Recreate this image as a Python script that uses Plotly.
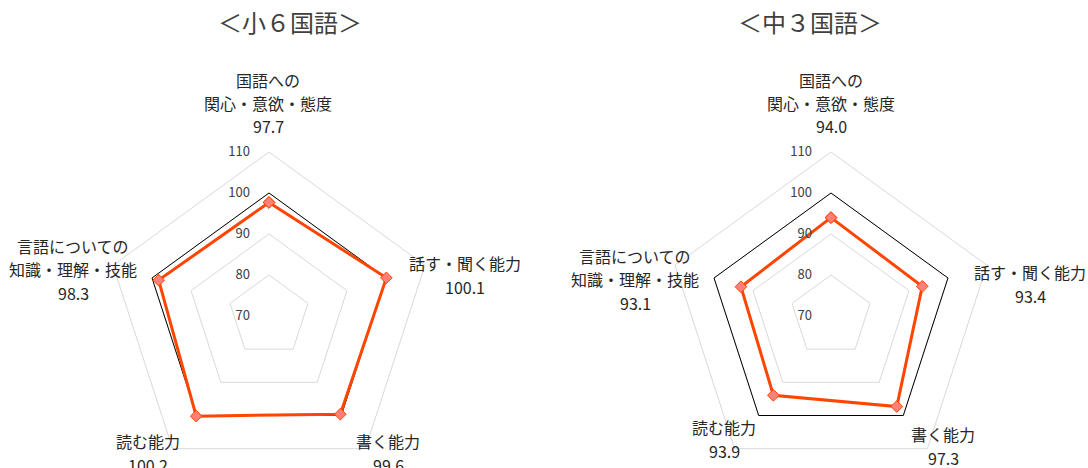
import plotly.graph_objects as go

# categories clockwise from the top
categories = ["国語への<br>関心・意欲・態度", "話す・聞く能力", "書く能力", "読む能力", "言語についての<br>知識・理解・技能"]
titles = ["＜小６国語＞", "＜中３国語＞"]
scores_e6 = [97.7, 100.1, 99.6, 100.2, 98.3]
scores_j3 = [94.0, 93.4, 97.3, 93.9, 93.1]
baseline = [100, 100, 100, 100, 100]
radial_ticks = [70, 80, 90, 100, 110]

W, H = 1088, 492
R = 164  # polar radius in px
LINE = 23.5  # label line spacing in px

def dom(cx, cy):
    return dict(x=[(cx - R) / W, (cx + R) / W], y=[(H - cy - R) / H, (H - cy + R) / H])

def px(x, y):
    return x / W, 1 - y / H

fig = go.Figure()

panels = [
    ("polar", scores_e6, (269, 316)),
    ("polar2", scores_j3, (831, 316)),
]

for name, vals, _ in panels:
    theta = categories + categories[:1]
    fig.add_trace(go.Scatterpolar(r=baseline + baseline[:1], theta=theta, subplot=name,
                                  mode="lines", line=dict(color="black", width=1),
                                  showlegend=False, hoverinfo="skip"))
    fig.add_trace(go.Scatterpolar(r=vals + vals[:1], theta=theta, subplot=name,
                                  mode="lines+markers", line=dict(color="#FF4500", width=3),
                                  marker=dict(symbol="diamond", size=9, color="#FF8078",
                                              line=dict(color="#FF4500", width=1)),
                                  showlegend=False))

polar_style = dict(
    bgcolor="white",
    gridshape="linear",
    radialaxis=dict(range=[70, 110], tickvals=radial_ticks, angle=90, tickangle=90,
                    side="counterclockwise", showline=False,
                    ticks="outside", ticklen=14, tickcolor="rgba(0,0,0,0)",
                    gridcolor="#d9d9d9", gridwidth=1,
                    tickfont=dict(size=13, color="#404040")),
    angularaxis=dict(direction="clockwise", rotation=90, showgrid=False,
                     showline=True, linecolor="#d9d9d9", linewidth=1,
                     showticklabels=False, ticks=""),
)

layout = dict(width=W, height=H, margin=dict(l=0, r=0, t=0, b=0),
              paper_bgcolor="white", font=dict(family="Noto Sans CJK JP", color="#262626"))
for name, _, c in panels:
    layout[name] = dict(domain=dom(*c), **polar_style)
fig.update_layout(**layout)

# data labels (category name + value), one annotation per line
label_pos = [
    [(268, 103), (465, 275), (388, 453), (148, 453), (73, 269)],
    [(831, 103), (1030, 284), (943, 446), (724, 439), (635, 279)],
]
for vals, pos in zip([scores_e6, scores_j3], label_pos):
    for cat, v, (x, y) in zip(categories, vals, pos):
        lines = cat.split("<br>") + [f"{v:.1f}"]
        n = len(lines)
        for i, s in enumerate(lines):
            ax, ay = px(x, y + (i - (n - 1) / 2) * LINE)
            fig.add_annotation(x=ax, y=ay, xref="paper", yref="paper", showarrow=False,
                               xanchor="center", yanchor="middle", text=s,
                               font=dict(size=16, color="#262626"))

for t, x in zip(titles, [290, 810]):
    ax, ay = px(x, 22)
    fig.add_annotation(x=ax, y=ay, xref="paper", yref="paper", showarrow=False,
                       xanchor="center", yanchor="middle",
                       text=t, font=dict(size=24, color="#404040"))

fig.write_html("out.html", config={"displayModeBar": False},
               post_script="document.body.style.margin='0';document.body.style.overflow='hidden';")
